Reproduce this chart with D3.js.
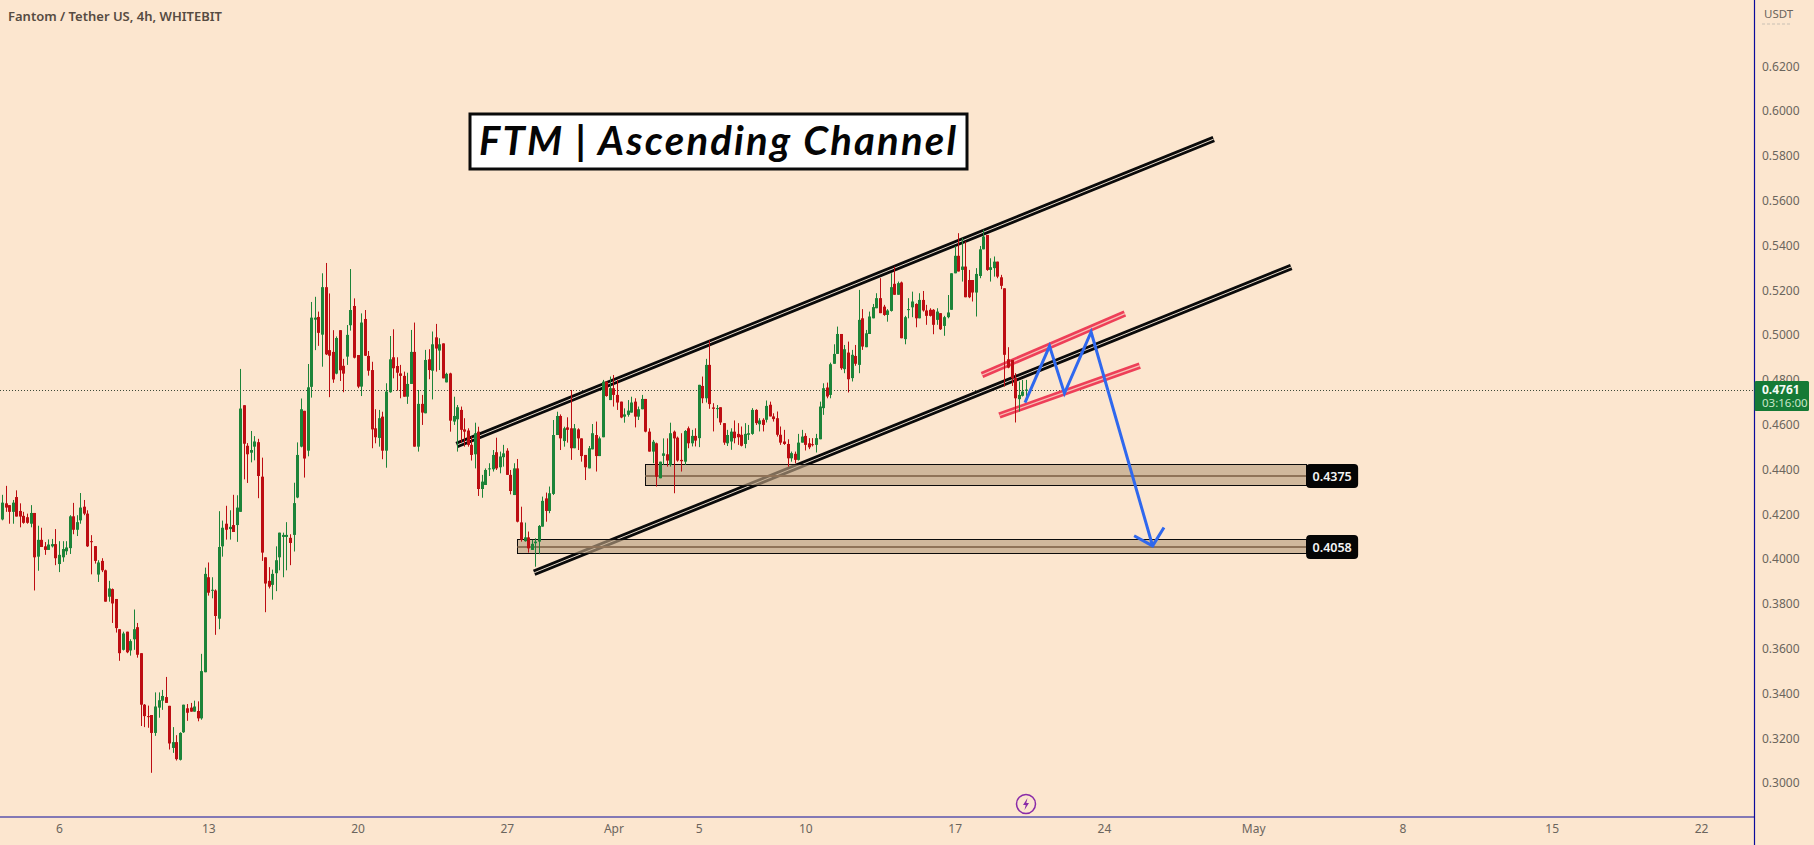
<!DOCTYPE html>
<html>
<head>
<meta charset="utf-8">
<title>FTM | Ascending Channel</title>
<script src="https://cdn.jsdelivr.net/npm/d3@7/dist/d3.min.js"></script>
<style>
    html, body { margin: 0; padding: 0; background: #fce6cf; overflow: hidden; }
    svg { display: block; }
    text { font-family: "Noto Sans", "Open Sans", sans-serif; }
</style>
</head>
<body>
<div id="chart"></div>
<script>
// 4h candles, first bar is 3 Mar 08:00
var opens = [
    0.4181,0.4253,0.4245,0.4215,0.4281,0.4219,0.4197,0.4191,0.4162,0.4210,
    0.4015,0.4090,0.4061,0.4045,0.4061,0.4071,0.3982,0.4012,0.4039,0.4053,
    0.4195,0.4135,0.4177,0.4238,0.4207,0.4084,0.4062,0.3935,0.3996,0.3954,
    0.3836,0.3870,0.3826,0.3691,0.3599,0.3680,0.3596,0.3646,0.3700,0.3584,
    0.3354,0.3303,0.3308,0.3228,0.3341,0.3372,0.3388,0.3349,0.3161,0.3187,
    0.3108,0.3231,0.3338,0.3341,0.3323,0.3326,0.3293,0.3499,0.3923,0.3864,
    0.3864,0.3738,0.4061,0.4162,0.4138,0.4156,0.4156,0.4215,0.4691,0.4510,
    0.4479,0.4506,0.4526,0.4372,0.4012,0.3907,0.3889,0.3941,0.4012,0.4103,
    0.4103,0.4099,0.4112,0.4279,0.4506,0.4666,0.4488,0.4773,0.5073,0.5085,
    0.5006,0.5218,0.4937,0.4929,0.4832,0.5026,0.4867,0.4908,0.5048,0.5134,
    0.4915,0.4774,0.5076,0.4911,0.4848,0.4588,0.4545,0.4640,0.4488,0.4749,
    0.4905,0.4866,0.4833,0.4822,0.4729,0.4786,0.4929,0.4506,0.4697,0.4655,
    0.4896,0.4845,0.4994,0.4935,0.4967,0.4793,0.4833,0.4618,0.4628,0.4670,
    0.4583,0.4578,0.4514,0.4472,0.4573,0.4317,0.4335,0.4405,0.4405,0.4481,
    0.4414,0.4459,0.4488,0.4380,0.4290,0.4409,0.4168,0.4084,0.4101,0.4045,
    0.4075,0.4082,0.4149,0.4275,0.4219,0.4295,0.4558,0.4643,0.4531,0.4592,
    0.4588,0.4499,0.4583,0.4543,0.4469,0.4409,0.4494,0.4558,0.4464,0.4548,
    0.4796,0.4714,0.4767,0.4737,0.4707,0.4640,0.4648,0.4658,0.4707,0.4640,
    0.4673,0.4719,0.4573,0.4484,0.4521,0.4365,0.4465,0.4472,0.4424,0.4573,
    0.4546,0.4447,0.4439,0.4588,0.4521,0.4554,0.4544,0.4777,0.4722,0.4871,
    0.4681,0.4675,0.4682,0.4611,0.4521,0.4529,0.4573,0.4563,0.4559,0.4518,
    0.4559,0.4563,0.4670,0.4606,0.4626,0.4626,0.4693,0.4641,0.4633,0.4559,
    0.4529,0.4518,0.4454,0.4474,0.4447,0.4524,0.4554,0.4521,0.4517,0.4514,
    0.4539,0.4678,0.4770,0.4737,0.4876,0.4920,0.5009,0.4852,0.4926,0.4812,
    0.4911,0.4871,0.5079,0.4950,0.5009,0.5079,0.5124,0.5169,0.5131,0.5094,
    0.5112,0.5233,0.5184,0.5239,0.4986,0.5117,0.5128,0.5143,0.5079,0.5161,
    0.5114,0.5117,0.5117,0.5072,0.5102,0.5045,0.5084,0.5117,0.5280,0.5358,
    0.5295,0.5310,0.5250,0.5250,0.5194,0.5268,0.5387,0.5451,0.5295,0.5303,
    0.5332,0.5262,0.5213,0.4896,0.4893,0.4812,0.4718,0.4733,0.4755
];
var highs = [
    0.4291,0.4331,0.4245,0.4268,0.4311,0.4253,0.4215,0.4207,0.4245,0.4210,
    0.4153,0.4144,0.4080,0.4092,0.4094,0.4138,0.4084,0.4084,0.4084,0.4200,
    0.4255,0.4200,0.4299,0.4268,0.4222,0.4111,0.4062,0.3999,0.4008,0.3957,
    0.3907,0.3873,0.3826,0.3691,0.3680,0.3680,0.3646,0.3779,0.3719,0.3584,
    0.3357,0.3350,0.3308,0.3409,0.3409,0.3420,0.3478,0.3349,0.3254,0.3218,
    0.3231,0.3354,0.3357,0.3362,0.3372,0.3369,0.3581,0.3966,0.3989,0.3923,
    0.3869,0.4218,0.4176,0.4242,0.4222,0.4291,0.4289,0.4853,0.4691,0.4522,
    0.4576,0.4553,0.4541,0.4457,0.4012,0.3968,0.3957,0.4061,0.4122,0.4122,
    0.4169,0.4115,0.4345,0.4525,0.4721,0.4666,0.4875,0.5152,0.5175,0.5109,
    0.5280,0.5326,0.5190,0.5026,0.4998,0.5026,0.4898,0.5049,0.5299,0.5168,
    0.4915,0.5101,0.5116,0.4933,0.4885,0.4673,0.4670,0.4662,0.4789,0.5000,
    0.5030,0.4905,0.4871,0.4841,0.4836,0.5027,0.5060,0.4759,0.4737,0.4938,
    0.4941,0.5020,0.5054,0.4990,0.4967,0.4836,0.4836,0.4729,0.4692,0.4685,
    0.4633,0.4588,0.4551,0.4613,0.4595,0.4380,0.4409,0.4432,0.4491,0.4546,
    0.4484,0.4514,0.4499,0.4402,0.4432,0.4451,0.4238,0.4167,0.4127,0.4090,
    0.4097,0.4156,0.4283,0.4301,0.4328,0.4625,0.4662,0.4650,0.4595,0.4637,
    0.4759,0.4607,0.4588,0.4543,0.4469,0.4509,0.4607,0.4618,0.4551,0.4804,
    0.4796,0.4819,0.4826,0.4804,0.4707,0.4677,0.4714,0.4729,0.4722,0.4685,
    0.4737,0.4719,0.4588,0.4536,0.4524,0.4439,0.4543,0.4543,0.4613,0.4578,
    0.4551,0.4566,0.4580,0.4596,0.4581,0.4588,0.4782,0.4819,0.4898,0.4980,
    0.4700,0.4692,0.4682,0.4611,0.4581,0.4588,0.4623,0.4611,0.4596,0.4611,
    0.4603,0.4678,0.4673,0.4633,0.4633,0.4712,0.4707,0.4655,0.4663,0.4596,
    0.4581,0.4539,0.4484,0.4484,0.4563,0.4581,0.4566,0.4544,0.4544,0.4563,
    0.4707,0.4789,0.4792,0.4881,0.4963,0.5042,0.5009,0.4960,0.4975,0.4938,
    0.4960,0.5206,0.5120,0.5027,0.5109,0.5143,0.5191,0.5258,0.5139,0.5120,
    0.5280,0.5310,0.5243,0.5243,0.5090,0.5169,0.5198,0.5146,0.5191,0.5201,
    0.5139,0.5124,0.5120,0.5124,0.5102,0.5090,0.5183,0.5280,0.5402,0.5459,
    0.5437,0.5422,0.5295,0.5250,0.5303,0.5402,0.5474,0.5451,0.5347,0.5355,
    0.5332,0.5273,0.5213,0.4950,0.4893,0.4834,0.4797,0.4804,0.4804
];
var lows = [
    0.4177,0.4215,0.4162,0.4162,0.4194,0.4146,0.4162,0.4162,0.4146,0.3864,
    0.3952,0.4058,0.4023,0.4045,0.4056,0.3977,0.3946,0.3992,0.4023,0.4027,
    0.4115,0.4107,0.4162,0.4200,0.4058,0.3936,0.3984,0.3902,0.3946,0.3814,
    0.3814,0.3719,0.3676,0.3550,0.3596,0.3584,0.3573,0.3599,0.3564,0.3259,
    0.3254,0.3251,0.3050,0.3215,0.3296,0.3331,0.3362,0.3154,0.3139,0.3105,
    0.3105,0.3228,0.3282,0.3323,0.3323,0.3280,0.3287,0.3499,0.3841,0.3829,
    0.3666,0.3691,0.4015,0.4091,0.4091,0.4125,0.4081,0.4215,0.4360,0.4344,
    0.4436,0.4445,0.4276,0.3996,0.3767,0.3873,0.3823,0.3861,0.3954,0.3923,
    0.3954,0.3977,0.4038,0.4276,0.4503,0.4368,0.4463,0.4725,0.4937,0.4956,
    0.4863,0.4915,0.4727,0.4791,0.4829,0.4799,0.4749,0.4871,0.5024,0.4900,
    0.4767,0.4732,0.4911,0.4823,0.4499,0.4521,0.4506,0.4450,0.4412,0.4747,
    0.4811,0.4756,0.4722,0.4729,0.4697,0.4786,0.4506,0.4484,0.4603,0.4655,
    0.4807,0.4717,0.4841,0.4848,0.4811,0.4793,0.4573,0.4603,0.4484,0.4524,
    0.4506,0.4506,0.4444,0.4409,0.4286,0.4278,0.4335,0.4375,0.4395,0.4402,
    0.4387,0.4417,0.4380,0.4293,0.4290,0.4168,0.4082,0.4082,0.4033,0.4045,
    0.3970,0.4026,0.4149,0.4171,0.4209,0.4290,0.4558,0.4491,0.4506,0.4524,
    0.4447,0.4499,0.4491,0.4439,0.4357,0.4409,0.4494,0.4395,0.4464,0.4548,
    0.4729,0.4714,0.4685,0.4670,0.4633,0.4613,0.4640,0.4658,0.4592,0.4625,
    0.4673,0.4570,0.4484,0.4432,0.4328,0.4365,0.4424,0.4417,0.4417,0.4298,
    0.4439,0.4395,0.4424,0.4499,0.4507,0.4507,0.4504,0.4700,0.4703,0.4675,
    0.4574,0.4633,0.4603,0.4514,0.4509,0.4492,0.4521,0.4514,0.4507,0.4499,
    0.4536,0.4559,0.4603,0.4574,0.4574,0.4614,0.4641,0.4618,0.4551,0.4514,
    0.4514,0.4417,0.4439,0.4432,0.4444,0.4524,0.4489,0.4495,0.4507,0.4480,
    0.4539,0.4648,0.4722,0.4722,0.4876,0.4920,0.4849,0.4834,0.4748,0.4797,
    0.4867,0.4834,0.4938,0.4950,0.5009,0.5079,0.5124,0.5102,0.5090,0.5064,
    0.5109,0.5184,0.5184,0.4990,0.4963,0.5079,0.5084,0.5039,0.5079,0.5109,
    0.5050,0.5087,0.5008,0.5050,0.5027,0.5001,0.5079,0.5117,0.5280,0.5288,
    0.5243,0.5173,0.5169,0.5154,0.5087,0.5258,0.5387,0.5291,0.5243,0.5265,
    0.5258,0.5209,0.4774,0.4856,0.4777,0.4614,0.4663,0.4730,0.4707
];
var closes = [
    0.4256,0.4234,0.4215,0.4256,0.4194,0.4194,0.4166,0.4166,0.4210,0.4012,
    0.4090,0.4058,0.4045,0.4069,0.4071,0.4008,0.4023,0.4049,0.4056,0.4195,
    0.4135,0.4169,0.4234,0.4207,0.4061,0.4081,0.3996,0.3989,0.3954,0.3814,
    0.3873,0.3806,0.3696,0.3584,0.3672,0.3588,0.3638,0.3691,0.3577,0.3354,
    0.3303,0.3300,0.3228,0.3346,0.3374,0.3393,0.3362,0.3181,0.3187,0.3111,
    0.3228,0.3354,0.3318,0.3323,0.3346,0.3293,0.3504,0.3938,0.3854,0.3867,
    0.3750,0.4058,0.4144,0.4135,0.4148,0.4125,0.4234,0.4676,0.4519,0.4472,
    0.4491,0.4529,0.4375,0.4033,0.3895,0.3881,0.3938,0.3999,0.4122,0.4112,
    0.4112,0.4076,0.4254,0.4469,0.4673,0.4453,0.4771,0.5082,0.5082,0.5014,
    0.5218,0.4918,0.4912,0.4806,0.4991,0.4847,0.4832,0.5005,0.5116,0.4903,
    0.4774,0.5060,0.4912,0.4845,0.4583,0.4548,0.4633,0.4488,0.4752,0.4896,
    0.4856,0.4836,0.4822,0.4729,0.4786,0.4929,0.4506,0.4697,0.4658,0.4893,
    0.4848,0.4963,0.4944,0.4963,0.4811,0.4831,0.4622,0.4643,0.4682,0.4581,
    0.4573,0.4514,0.4469,0.4566,0.4317,0.4350,0.4402,0.4409,0.4469,0.4409,
    0.4462,0.4476,0.4380,0.4308,0.4409,0.4171,0.4090,0.4101,0.4052,0.4072,
    0.4082,0.4152,0.4264,0.4219,0.4298,0.4558,0.4643,0.4543,0.4588,0.4581,
    0.4499,0.4588,0.4543,0.4464,0.4414,0.4499,0.4566,0.4464,0.4543,0.4796,
    0.4732,0.4767,0.4737,0.4703,0.4636,0.4650,0.4667,0.4703,0.4640,0.4673,
    0.4719,0.4573,0.4484,0.4528,0.4372,0.4439,0.4476,0.4444,0.4566,0.4543,
    0.4444,0.4441,0.4576,0.4521,0.4554,0.4533,0.4782,0.4722,0.4871,0.4696,
    0.4675,0.4678,0.4614,0.4524,0.4558,0.4573,0.4544,0.4548,0.4510,0.4563,
    0.4566,0.4670,0.4611,0.4623,0.4603,0.4688,0.4641,0.4629,0.4559,0.4524,
    0.4518,0.4454,0.4477,0.4447,0.4524,0.4551,0.4514,0.4503,0.4514,0.4544,
    0.4685,0.4767,0.4730,0.4874,0.4920,0.5009,0.4856,0.4941,0.4807,0.4916,
    0.4876,0.5072,0.4953,0.5012,0.5087,0.5129,0.5169,0.5102,0.5094,0.5114,
    0.5218,0.5184,0.5236,0.4990,0.5084,0.5120,0.5154,0.5079,0.5161,0.5114,
    0.5090,0.5090,0.5050,0.5109,0.5030,0.5084,0.5105,0.5280,0.5358,0.5288,
    0.5310,0.5173,0.5173,0.5194,0.5277,0.5387,0.5444,0.5295,0.5307,0.5332,
    0.5265,0.5224,0.4916,0.4859,0.4812,0.4722,0.4737,0.4752,0.4761
];

var priceTicks = [0.30,0.32,0.34,0.36,0.38,0.40,0.42,0.44,0.46,0.48,0.50,0.52,0.54,0.56,0.58,0.60,0.62];
var dateTicks = ['2023-03-06','2023-03-13','2023-03-20','2023-03-27','2023-04-01','2023-04-05','2023-04-10','2023-04-17','2023-04-24','2023-05-01','2023-05-08','2023-05-15','2023-05-22'];
var dateLabels = ['6','13','20','27','Apr','5','10','17','24','May','8','15','22'];

// drawings, as [bar number, price]
var upperChannel = [[127.9,0.4513],[340.9,0.5879]];
var lowerChannel = [[149.7,0.3943],[362.7,0.5308]];
var upperFlag = [[275.7,0.4826],[315.9,0.5100]];
var lowerFlag = [[280.6,0.4645],[320.1,0.4868]];
var bluePath = [[287.8,0.4703],[294.7,0.4955],[298.9,0.4744],[306.4,0.5018],[323.7,0.4063]];
var blueHead = [[318.5,0.4108],[323.7,0.4063],[326.9,0.4145]];

// support zones
var zoneNames = ['0.4375','0.4058'];
var zoneLevels = [0.4375,0.4058];
var zoneTops = [0.4427,0.4092];
var zoneBottoms = [0.4333,0.4030];
var zoneStarts = [181.0,145.0];
var zoneEnd = 366.9;

var lastPrice = 0.4761,
    countdown = '03:16:00',
    symbolTitle = 'Fantom / Tether US, 4h, WHITEBIT',
    headline = 'FTM | Ascending Channel';

var width = 1814,
    height = 845,
    axisX = 1754.5,
    axisY = 817,
    background = '#fce6cf',
    upColor = '#1c8439',
    downColor = '#bd0d12',
    frameColor = '#0a0a9c',
    labelColor = '#6b655d',
    firstBar = new Date(Date.UTC(2023, 2, 3, 8)),
    fourHours = 4 * 3600 * 1000;

var svg = d3.select('#chart').append('svg')
    .attr('width', width)
    .attr('height', height);

svg.append('rect')
    .attr('width', width)
    .attr('height', height)
    .attr('fill', background);

var xScale = d3.scaleUtc()
    .domain([new Date('2023-03-06T00:00:00Z'), new Date('2023-05-22T00:00:00Z')])
    .range([59, 1701]);

var yScale = d3.scaleLinear()
    .domain([0.30, 0.62])
    .range([784, 67.2]);

function barDate(i) {
    return new Date(firstBar.getTime() + i * fourHours);
}

function barX(i) {
    return xScale(barDate(i));
}

var lineOf = d3.line()
    .x(function(d) { return barX(d[0]); })
    .y(function(d) { return yScale(d[1]); });

// Last price dotted line
svg.append('line')
    .attr('x1', 0)
    .attr('x2', axisX)
    .attr('y1', Math.round(yScale(lastPrice)) + 0.5)
    .attr('y2', Math.round(yScale(lastPrice)) + 0.5)
    .attr('stroke', '#3d4a3a')
    .attr('stroke-dasharray', '1 2');

// Channels and flag: thick stroke with a thin light core
var drawings = svg.append('g').attr('class', 'drawings');

[upperChannel, lowerChannel].forEach(function(pts) {
    drawings.append('path').attr('d', lineOf(pts)).attr('stroke', '#0b0b0b').attr('stroke-width', 6.5).attr('fill', 'none');
    drawings.append('path').attr('d', lineOf(pts)).attr('stroke', '#e9dccb').attr('stroke-width', 1).attr('fill', 'none');
});

[upperFlag, lowerFlag].forEach(function(pts) {
    drawings.append('path').attr('d', lineOf(pts)).attr('stroke', '#ee3f58').attr('stroke-width', 6.5).attr('fill', 'none');
    drawings.append('path').attr('d', lineOf(pts)).attr('stroke', '#f6c5b8').attr('stroke-width', 1.2).attr('fill', 'none');
});

// Zones
var zones = svg.append('g').attr('class', 'zones');

zoneNames.forEach(function(name, i) {
    var x0 = barX(zoneStarts[i]),
        x1 = barX(zoneEnd);

    zones.append('rect')
        .attr('x', Math.round(x0) + 0.5)
        .attr('y', Math.round(yScale(zoneTops[i])) + 0.5)
        .attr('width', Math.round(x1 - x0))
        .attr('height', Math.round(yScale(zoneBottoms[i]) - yScale(zoneTops[i])))
        .attr('fill', 'rgb(185,160,129)')
        .attr('fill-opacity', 0.66)
        .attr('stroke', '#0b0b0b');

    zones.append('line')
        .attr('x1', x0)
        .attr('x2', x1)
        .attr('y1', yScale(zoneLevels[i]))
        .attr('y2', yScale(zoneLevels[i]))
        .attr('stroke', '#8f7358')
        .attr('stroke-width', 2);

    zones.append('rect')
        .attr('x', x1)
        .attr('y', yScale(zoneLevels[i]) - 12)
        .attr('width', 52)
        .attr('height', 24)
        .attr('rx', 4)
        .attr('fill', '#050505');

    zones.append('text')
        .attr('x', x1 + 26)
        .attr('y', yScale(zoneLevels[i]) + 4.5)
        .attr('text-anchor', 'middle')
        .attr('font-size', 12.5)
        .attr('font-weight', 600)
        .attr('fill', '#f4f4f4')
        .text(name);
});

// Candles
var candles = svg.append('g')
    .attr('class', 'candles')
    .selectAll('g')
    .data(opens)
    .enter().append('g')
    .attr('fill', function(o, i) { return closes[i] >= o ? upColor : downColor; });

candles.append('rect')
    .attr('class', 'wick')
    .attr('x', function(o, i) { return Math.round(barX(i)); })
    .attr('y', function(o, i) { return yScale(highs[i]); })
    .attr('width', 1)
    .attr('height', function(o, i) { return yScale(lows[i]) - yScale(highs[i]); });

candles.append('rect')
    .attr('class', 'body')
    .attr('x', function(o, i) { return Math.round(barX(i)) - 1; })
    .attr('y', function(o, i) { return yScale(Math.max(o, closes[i])); })
    .attr('width', 3)
    .attr('height', function(o, i) { return Math.max(1, Math.abs(yScale(o) - yScale(closes[i]))); });

// Blue projected path
[bluePath, blueHead].forEach(function(pts) {
    svg.append('path')
        .attr('d', lineOf(pts))
        .attr('fill', 'none')
        .attr('stroke', '#2f68ee')
        .attr('stroke-width', 3)
        .attr('stroke-linejoin', 'miter');
});

// Headline box
svg.append('rect')
    .attr('x', 470)
    .attr('y', 114)
    .attr('width', 497)
    .attr('height', 55)
    .attr('fill', '#ffffff')
    .attr('stroke', '#0a0a0a')
    .attr('stroke-width', 3);

svg.append('text')
    .attr('x', 479)
    .attr('y', 155)
    .attr('font-size', 40)
    .attr('font-style', 'italic')
    .attr('font-weight', 700)
    .attr('textLength', 477)
    .attr('lengthAdjust', 'spacing')
    .attr('fill', '#050505')
    .style('font-family', 'Lato, sans-serif')
    .text(headline);

svg.append('text')
    .attr('x', 8)
    .attr('y', 21)
    .attr('font-size', 13)
    .attr('font-weight', 600)
    .attr('fill', '#564b42')
    .text(symbolTitle);

// Frame lines
svg.append('line')
    .attr('x1', axisX).attr('x2', axisX)
    .attr('y1', 0).attr('y2', height)
    .attr('stroke', frameColor).attr('stroke-width', 1.2);

svg.append('line')
    .attr('x1', 0).attr('x2', axisX)
    .attr('y1', axisY).attr('y2', axisY)
    .attr('stroke', frameColor).attr('stroke-width', 1.2);

// Price axis
var priceAxis = d3.axisRight(yScale)
    .tickValues(priceTicks)
    .tickFormat(d3.format('.4f'))
    .tickSize(0)
    .tickPadding(0);

var priceAxisGroup = svg.append('g')
    .attr('transform', 'translate(1762,-1)')
    .call(priceAxis);

priceAxisGroup.select('.domain').remove();
priceAxisGroup.selectAll('text')
    .attr('font-size', 12)
    .style('font-family', '"Noto Sans", sans-serif')
    .attr('fill', labelColor);

svg.append('text')
    .attr('x', 1764)
    .attr('y', 18)
    .attr('font-size', 11.5)
    .attr('fill', labelColor)
    .text('USDT');

svg.append('line')
    .attr('x1', 1762).attr('x2', 1792)
    .attr('y1', 24).attr('y2', 24)
    .attr('stroke', '#c9c0b4')
    .attr('stroke-dasharray', '3 2');

// Date axis
var dateAxis = d3.axisBottom(xScale)
    .tickValues(dateTicks.map(function(d) { return new Date(d + 'T00:00:00Z'); }))
    .tickFormat(function(d, i) { return dateLabels[i]; })
    .tickSize(0)
    .tickPadding(0);

var dateAxisGroup = svg.append('g')
    .attr('transform', 'translate(0,' + (axisY + 7) + ')')
    .call(dateAxis);

dateAxisGroup.select('.domain').remove();
dateAxisGroup.selectAll('text')
    .attr('font-size', 12)
    .style('font-family', '"Noto Sans", sans-serif')
    .attr('fill', labelColor);

// Last price tag
svg.append('rect')
    .attr('x', axisX)
    .attr('y', 381)
    .attr('width', 54.5)
    .attr('height', 30)
    .attr('rx', 1.5)
    .attr('fill', '#157a36');

svg.append('text')
    .attr('x', 1762)
    .attr('y', 394)
    .attr('font-size', 12)
    .attr('font-weight', 700)
    .attr('fill', '#f5fbf5')
    .text(d3.format('.4f')(lastPrice));

svg.append('text')
    .attr('x', 1762)
    .attr('y', 407)
    .attr('font-size', 11.5)
    .attr('fill', '#c8e6c9')
    .text(countdown);

// Lightning icon
var icon = svg.append('g').attr('transform', 'translate(1026,804)');

icon.append('circle')
    .attr('r', 9.5)
    .attr('fill', background)
    .attr('stroke', '#8a2ba8')
    .attr('stroke-width', 1.5);

icon.append('path')
    .attr('d', 'M1.5,-6 L-3,1 L-0.3,1 L-1.5,6 L3,-1 L0.3,-1 Z')
    .attr('fill', '#8a2ba8');
</script>
</body>
</html>
